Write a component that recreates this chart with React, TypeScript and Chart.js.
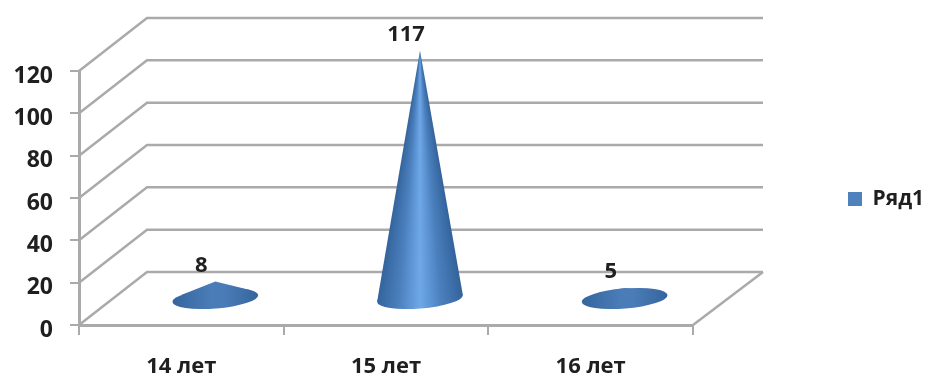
import React, { useEffect, useRef } from "react";
import { Chart, registerables } from "chart.js";

Chart.register(...registerables);

// Series
const categories = ["14 лет", "15 лет", "16 лет"];
const values = [8, 117, 5];
const seriesName = "Ряд1";
const yTicksMax = 120;
const yTickStep = 20;

// Oblique projection of the chart's depth, in pixels
const DEPTH_X = 68;
const DEPTH_Y = 53;
const LINE = "#aaaaaa";
const TEXT = "#1f1f1f";
const FONT_FAMILY = "'Open Sans', 'Noto Sans', sans-serif";

// Cone base ellipse, seen from slightly above and tilted a little
const BASE_RX = 43;
const BASE_RY = 10;
const BASE_TILT = -0.08;

const walls = {
  id: "walls",
  beforeDatasetsDraw(chart: any) {
    const { ctx, chartArea: a, scales } = chart;
    ctx.save();
    ctx.strokeStyle = LINE;
    ctx.lineWidth = 2.5;
    for (const t of scales.y.ticks) {
      const y = scales.y.getPixelForValue(t.value);
      ctx.beginPath();
      ctx.moveTo(a.left, y);
      ctx.lineTo(a.left + DEPTH_X, y - DEPTH_Y);
      ctx.lineTo(a.right + DEPTH_X + 2, y - DEPTH_Y);
      ctx.stroke();
    }
    // Floor edge on the right side
    ctx.beginPath();
    ctx.moveTo(a.right + DEPTH_X + 2, a.bottom - DEPTH_Y);
    ctx.lineTo(a.right, a.bottom);
    ctx.stroke();
    ctx.restore();
  },
};

// Points where the lines from the apex touch the base ellipse
function tangentPoints(apexX: number, apexY: number, cx: number, cy: number) {
  const cos = Math.cos(BASE_TILT);
  const sin = Math.sin(BASE_TILT);
  let left = { x: cx, y: cy, a: -Infinity };
  let right = { x: cx, y: cy, a: Infinity };
  for (let i = 0; i < 360; i++) {
    const t = (i * Math.PI) / 180;
    const ex = BASE_RX * Math.cos(t);
    const ey = BASE_RY * Math.sin(t);
    const x = cx + ex * cos - ey * sin;
    const y = cy + ex * sin + ey * cos;
    const a = Math.atan2(apexX - x, y - apexY);
    if (a > left.a) left = { x, y, a };
    if (a < right.a) right = { x, y, a };
  }
  return { left, right };
}

function coneFill(ctx: any, apexX: number, apexY: number, cx: number, cy: number) {
  const tall = cy - apexY > BASE_RY * 4;
  if (tall) {
    // Shading follows the direction from the apex, so it narrows toward the tip
    const g = ctx.createConicGradient(-Math.PI / 2, apexX, apexY);
    const spread = Math.atan2(BASE_RX, cy - apexY) / (2 * Math.PI);
    g.addColorStop(0, "#33639b");
    g.addColorStop(0.5 - spread, "#33639b");
    g.addColorStop(0.5 - spread * 0.5, "#4a7fbd");
    g.addColorStop(0.5, "#6fa8e8");
    g.addColorStop(0.5 + spread * 0.5, "#4a7fbd");
    g.addColorStop(0.5 + spread, "#33639b");
    g.addColorStop(1, "#33639b");
    return g;
  }
  const g = ctx.createLinearGradient(cx - BASE_RX, 0, cx + BASE_RX, 0);
  g.addColorStop(0, "#35659d");
  g.addColorStop(0.45, "#4a7cb7");
  g.addColorStop(0.6, "#4a7cb7");
  g.addColorStop(1, "#35659d");
  return g;
}

const cones = {
  id: "cones",
  beforeDatasetDraw(chart: any, args: any) {
    const { ctx, scales } = chart;
    const meta = chart.getDatasetMeta(args.index);
    const floor = scales.y.getPixelForValue(0);
    ctx.save();
    meta.data.forEach((bar: any) => {
      const cx = bar.x + DEPTH_X / 2;
      const cy = floor - DEPTH_Y / 2;
      const apexX = cx;
      const apexY = bar.y - DEPTH_Y / 2;
      ctx.fillStyle = coneFill(ctx, apexX, apexY, cx, cy);
      ctx.beginPath();
      ctx.ellipse(cx, cy, BASE_RX, BASE_RY, BASE_TILT, 0, Math.PI * 2);
      ctx.fill();
      const { left, right } = tangentPoints(apexX, apexY, cx, cy);
      ctx.beginPath();
      ctx.moveTo(apexX, apexY);
      ctx.lineTo(left.x, left.y);
      ctx.lineTo(right.x, right.y);
      ctx.closePath();
      ctx.fill();
    });
    ctx.restore();
    return false;
  },
  afterDatasetsDraw(chart: any) {
    const { ctx } = chart;
    const meta = chart.getDatasetMeta(0);
    ctx.save();
    ctx.font = `bold 22px ${FONT_FAMILY}`;
    ctx.fillStyle = TEXT;
    ctx.textAlign = "center";
    ctx.textBaseline = "middle";
    meta.data.forEach((bar: any, i: number) => {
      ctx.fillText(String(values[i]), bar.x + 20, bar.y - DEPTH_Y / 2 - 16);
    });
    ctx.restore();
  },
};

// Reserves the space to the right of the plot and puts the legend at its far side
const legendPlacement = {
  id: "legendPlacement",
  beforeLayout(chart: any) {
    const legend = chart.legend;
    if (!legend.widened) {
      const fit = legend.fit;
      legend.fit = function () {
        fit.call(this);
        this.width = 232;
      };
      legend.widened = true;
    }
  },
  afterLayout(chart: any) {
    const legend = chart.legend;
    legend.left = 838;
    legend.right = 925;
    legend.top = chart.chartArea.top + 1;
    legend.bottom = chart.chartArea.bottom + 1;
  },
};

export default function App() {
  const ref = useRef<HTMLCanvasElement>(null);

  useEffect(() => {
    const chart = new Chart(ref.current as HTMLCanvasElement, {
      type: "bar",
      data: {
        labels: categories,
        datasets: [
          {
            label: seriesName,
            data: values,
            backgroundColor: "#4f81bd",
            borderWidth: 0,
          },
        ],
      },
      plugins: [walls, cones, legendPlacement],
      options: {
        animation: false,
        responsive: false,
        layout: { padding: { top: 71, left: 0, right: 0, bottom: 0 } },
        plugins: {
          tooltip: { enabled: false },
          legend: {
            position: "right",
            labels: {
              boxWidth: 14,
              boxHeight: 14,
              padding: 10,
              color: TEXT,
              font: { family: FONT_FAMILY, size: 21, weight: "bold" },
            },
          },
        },
        scales: {
          x: {
            offset: true,
            afterFit(s: any) {
              s.height = 53;
            },
            border: { color: LINE, width: 3 },
            grid: {
              offset: true,
              drawOnChartArea: false,
              color: LINE,
              lineWidth: 2,
              tickLength: 10,
            },
            ticks: {
              color: TEXT,
              padding: 19,
              maxRotation: 0,
              font: { family: FONT_FAMILY, size: 22, weight: "bold" },
            },
          },
          y: {
            min: 0,
            max: yTicksMax,
            afterFit(s: any) {
              s.width = 79;
            },
            border: { color: LINE, width: 3 },
            grid: {
              drawOnChartArea: false,
              color: LINE,
              lineWidth: 2,
              tickLength: 9,
            },
            ticks: {
              stepSize: yTickStep,
              color: TEXT,
              padding: 17,
              labelOffset: 5,
              font: { family: FONT_FAMILY, size: 23, weight: "bold" },
            },
          },
        },
      },
    } as any);
    return () => chart.destroy();
  }, []);

  return (
    <div style={{ position: "absolute", left: 0, top: 0, width: 925, height: 378, background: "#fff" }}>
      <canvas ref={ref} width={925} height={378} style={{ display: "block" }} />
    </div>
  );
}
